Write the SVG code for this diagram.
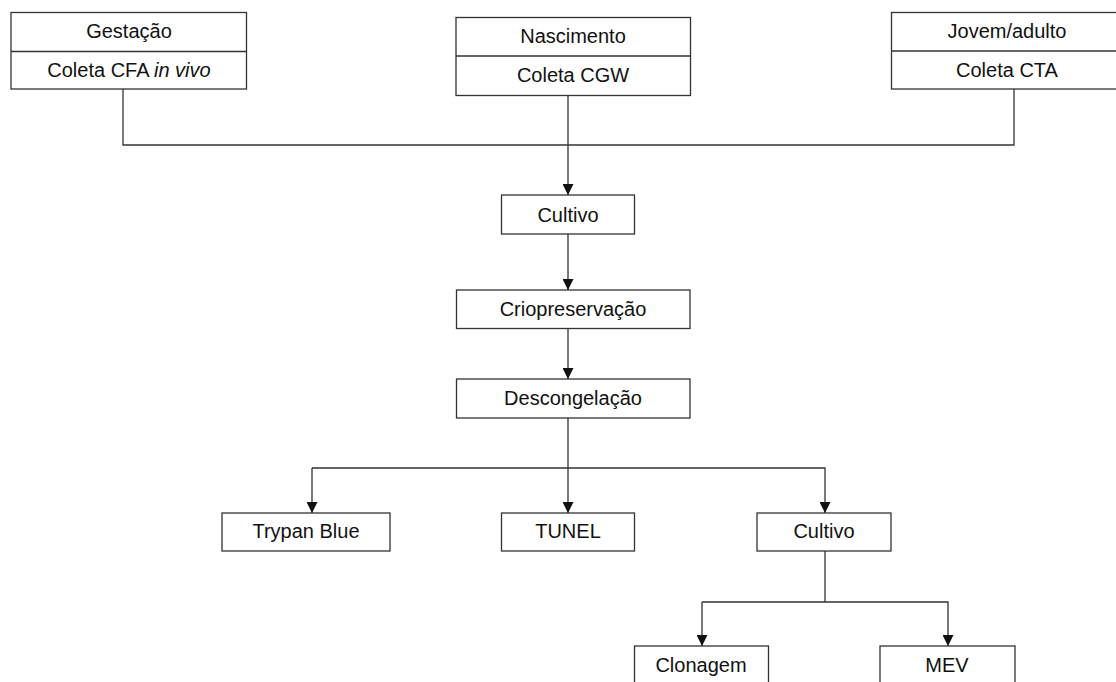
<svg xmlns="http://www.w3.org/2000/svg" width="1116" height="682" viewBox="0 0 1116 682">
<defs>
<style>
.b{fill:#fff;stroke:#333;stroke-width:1.3}
.t{font-family:"Liberation Sans",Arial,sans-serif;font-size:20px;fill:#111;text-anchor:middle}
.c{fill:none;stroke:#333;stroke-width:1.3}
</style>
<marker id="ah" viewBox="0 0 10 10" refX="10" refY="5" markerWidth="12" markerHeight="11" markerUnits="userSpaceOnUse" orient="auto">
<path d="M0,0 L10,5 L0,10 Z" fill="#111"/>
</marker>
</defs>
<rect width="1116" height="682" fill="#fff"/>
<g id="connectors">
<path class="c" d="M123,89 V145 H1014 V89"/>
<path class="c" d="M568,96 V195" marker-end="url(#ah)"/>
<path class="c" d="M568,234 V290" marker-end="url(#ah)"/>
<path class="c" d="M568,328 V379" marker-end="url(#ah)"/>
<path class="c" d="M568,418 V513" marker-end="url(#ah)"/>
<path class="c" d="M312,468 H825 V513" marker-end="url(#ah)"/>
<path class="c" d="M312,468 V513" marker-end="url(#ah)"/>
<path class="c" d="M825,551 V602"/>
<path class="c" d="M702,602 H948 V646" marker-end="url(#ah)"/>
<path class="c" d="M702,602 V646" marker-end="url(#ah)"/>
</g>
<g id="gestacao">
<rect class="b" x="11" y="12.5" width="235.5" height="76.5"/>
<line class="c" x1="11" y1="51.5" x2="246.5" y2="51.5"/>
<text class="t" x="129" y="37.5">Gestação</text>
<text class="t" x="129" y="77">Coleta CFA <tspan font-style="italic">in vivo</tspan></text>
</g>
<g id="nascimento">
<rect class="b" x="456" y="17.5" width="234.5" height="78"/>
<line class="c" x1="456" y1="56" x2="690.5" y2="56"/>
<text class="t" x="573" y="42.5">Nascimento</text>
<text class="t" x="573" y="82">Coleta CGW</text>
</g>
<g id="jovem">
<rect class="b" x="891.5" y="12.5" width="235" height="76.5"/>
<line class="c" x1="891.5" y1="51" x2="1126" y2="51"/>
<text class="t" x="1007" y="37.5">Jovem/adulto</text>
<text class="t" x="1007" y="76.5">Coleta CTA</text>
</g>
<g id="cultivo1">
<rect class="b" x="501.5" y="195" width="133" height="39"/>
<text class="t" x="568" y="221.5">Cultivo</text>
</g>
<g id="crio">
<rect class="b" x="456.5" y="290" width="233.5" height="38.5"/>
<text class="t" x="573" y="315.5">Criopreservação</text>
</g>
<g id="descong">
<rect class="b" x="456.5" y="379" width="233.5" height="39"/>
<text class="t" x="573" y="404.5">Descongelação</text>
</g>
<g id="trypan">
<rect class="b" x="222" y="513" width="168" height="38"/>
<text class="t" x="306" y="537.5">Trypan Blue</text>
</g>
<g id="tunel">
<rect class="b" x="501.5" y="513" width="133" height="38"/>
<text class="t" x="568" y="537.5">TUNEL</text>
</g>
<g id="cultivo2">
<rect class="b" x="757" y="513" width="134" height="38"/>
<text class="t" x="824" y="537.5">Cultivo</text>
</g>
<g id="clonagem">
<rect class="b" x="634.5" y="646" width="134" height="45"/>
<text class="t" x="701" y="672">Clonagem</text>
</g>
<g id="mev">
<rect class="b" x="880" y="646" width="135" height="45"/>
<text class="t" x="947" y="672">MEV</text>
</g>
</svg>
